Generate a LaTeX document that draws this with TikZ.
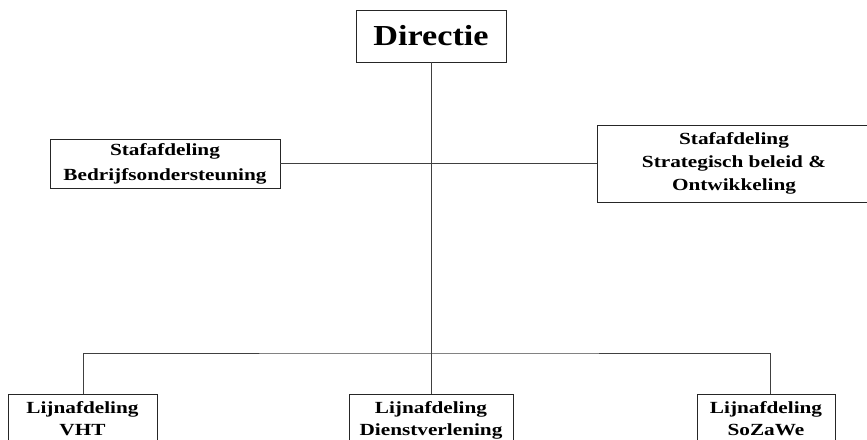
\documentclass[tikz,border=0pt]{standalone}
\usepackage{fontspec}
\setmainfont{Liberation Serif}[FakeStretch=1.25]
\newfontfamily\bigf{Liberation Serif}[FakeStretch=1.18]
\begin{document}
\begin{tikzpicture}[x=1pt,y=-1pt,
  box/.style={draw=black!85,line width=0.9pt,fill=white,inner sep=0pt},
  lbl/.style={align=center,inner sep=0pt,font=\fontsize{17}{22}\selectfont\bfseries},
  conn/.style={draw=black!75,line width=0.9pt}]
\useasboundingbox (0,0) rectangle (867,439);
\clip (0,0) rectangle (867,439);
\fill[white] (0,0) rectangle (867,439);
% connectors first (boxes drawn on top)
\coordinate (bus) at (431,353);
% nodes
\node[box,minimum width=150,minimum height=52,font=\bigf\fontsize{29}{32}\selectfont\bfseries] (dir) at (431,36) {Directie};
\node[box,minimum width=230,minimum height=49,lbl,font=\fontsize{17}{25}\selectfont\bfseries] (bedr) at (165,163.5) {Stafafdeling\\Bedrijfsondersteuning};
\node[box,minimum width=274,minimum height=77,lbl,font=\fontsize{17}{23}\selectfont\bfseries] (strat) at (734,163.5) {Stafafdeling\\Strategisch beleid \&\\Ontwikkeling};
\node[box,anchor=north,minimum width=149,minimum height=80] (vht) at (82.5,394) {};
\node[box,anchor=north,minimum width=164,minimum height=80] (dienst) at (431,394) {};
\node[box,anchor=north,minimum width=138,minimum height=80] (soz) at (766,394) {};
\node[lbl,anchor=north] (vhtT) at ([yshift=-7]vht.north) {Lijnafdeling\\VHT};
\node[lbl,anchor=north] (dienstT) at ([yshift=-7]dienst.north) {Lijnafdeling\\Dienstverlening};
\node[lbl,anchor=north] (sozT) at ([yshift=-7]soz.north) {Lijnafdeling\\SoZaWe};
% connectors
\draw[conn] (dir.south) -- (dienst.north);
\draw[conn] (bedr.east) -- (strat.west);
\draw[conn] ([xshift=0.5]vht.north) |- (bus) -| ([xshift=4]soz.north);
\end{tikzpicture}
\end{document}
